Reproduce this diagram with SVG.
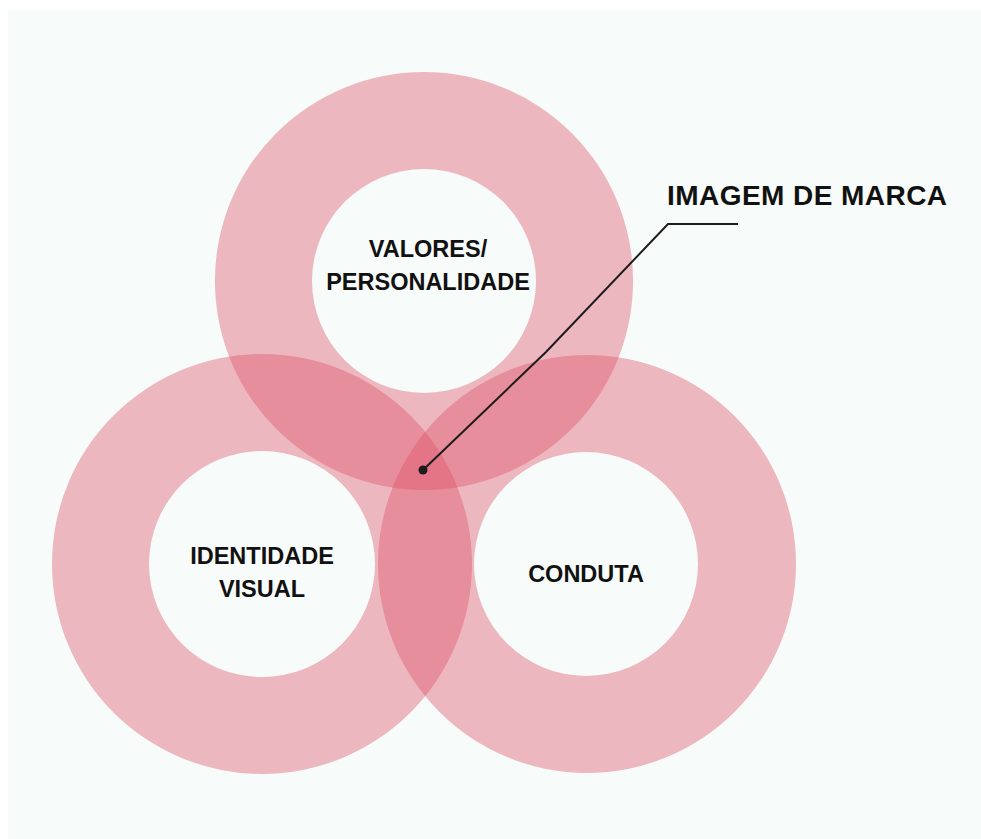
<svg xmlns="http://www.w3.org/2000/svg" width="981" height="839" viewBox="0 0 981 839">
<style>
.ring{fill:rgb(222,78,100);fill-opacity:0.39;fill-rule:evenodd;}
.lbl{font-family:"Liberation Sans",Arial,sans-serif;font-weight:bold;font-size:23.5px;fill:#111;text-anchor:middle;}
.title{font-family:"Liberation Sans",Arial,sans-serif;font-weight:bold;font-size:28px;fill:#111;letter-spacing:0.45px;}
.conn{fill:none;stroke:#1c1c1c;stroke-width:2;}
</style>
<rect x="0" y="0" width="981" height="839" fill="#ffffff"/>
<rect x="8" y="10" width="973" height="829" fill="#f7fbfa"/>
<g id="node-valores">
<path class="ring" d="M424,72 A209,209 0 1,1 424,490 A209,209 0 1,1 424,72 Z M424,169 A112,112 0 1,0 424,393 A112,112 0 1,0 424,169 Z"/>
<text class="lbl" x="428" y="257">VALORES/</text>
<text class="lbl" x="428" y="290">PERSONALIDADE</text>
</g>
<g id="node-identidade">
<path class="ring" d="M262,354 A210,210 0 1,1 262,774 A210,210 0 1,1 262,354 Z M262,451 A113,113 0 1,0 262,677 A113,113 0 1,0 262,451 Z"/>
<text class="lbl" x="262" y="564">IDENTIDADE</text>
<text class="lbl" x="262" y="597">VISUAL</text>
</g>
<g id="node-conduta">
<path class="ring" d="M587,355 A209,209 0 1,1 587,773 A209,209 0 1,1 587,355 Z M586,452 A112,112 0 1,0 586,676 A112,112 0 1,0 586,452 Z"/>
<text class="lbl" x="586" y="582">CONDUTA</text>
</g>
<g id="connectors">
<polyline class="conn" points="423,470 546,352 668,224 738,224"/>
<circle cx="423" cy="470" r="4.5" fill="#1c1c1c"/>
</g>
<g id="node-imagem">
<text class="title" x="667" y="205">IMAGEM DE MARCA</text>
</g>
</svg>
